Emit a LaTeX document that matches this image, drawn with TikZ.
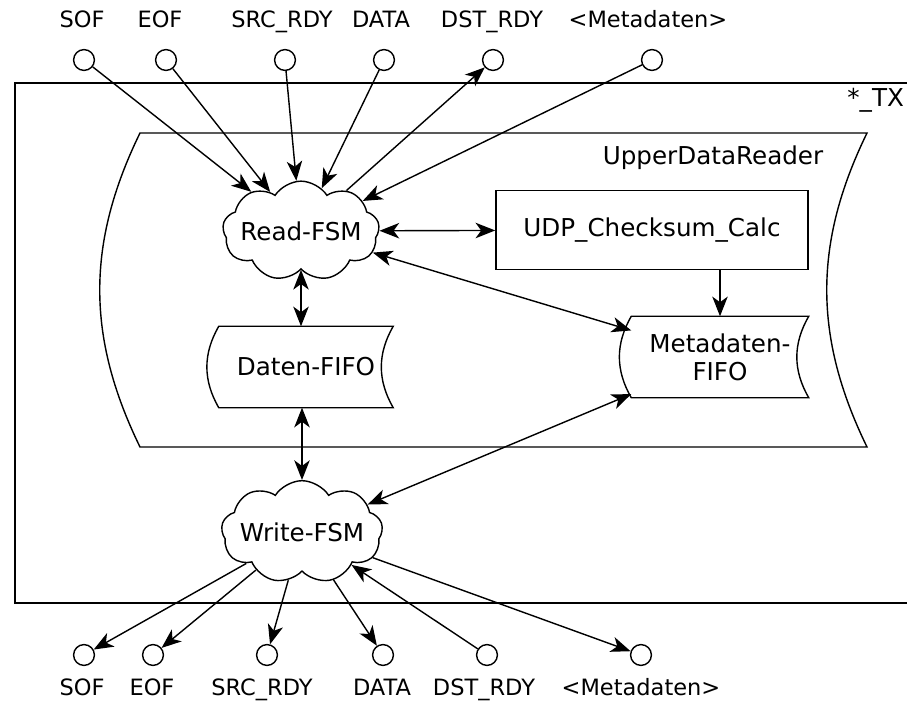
\documentclass[tikz,border=0pt]{standalone}
\usepackage{fontspec}
\setmainfont{DejaVu Sans}
\usetikzlibrary{shapes.symbols,arrows.meta}

\begin{document}
\begin{tikzpicture}[x=0.025cm,y=-0.025cm,line width=1pt,
    font=\fontsize{17.5}{20}\selectfont]
  \tikzstyle{port}=[circle,draw,minimum size=0.52cm,inner sep=0pt]
  \tikzstyle{portname}=[font=\fontsize{16}{19}\selectfont,
    text height=12pt,text depth=4pt,inner sep=0pt]
  \tikzstyle{fsm}=[cloud,draw,cloud puffs=9,cloud puff arc=115,
    aspect=2,inner xsep=-5pt,inner ysep=-4pt]
  \tikzstyle{fifo}=[minimum height=2cm,inner sep=0pt,align=center]
  \tikzstyle{box}=[draw,minimum width=7.8cm,minimum height=1.975cm]
  \tikzstyle{sig}=[-{Stealth[length=14pt,width=11pt,inset=4pt]}]
  \tikzstyle{both}=[{Stealth[length=14pt,width=11pt,inset=4pt]}-{Stealth[length=14pt,width=11pt,inset=4pt]}]
  \useasboundingbox (0,0) rectangle (907,708);

  % TX block and UpperDataReader
  \draw (915,83) -- (15,83) -- (15,603) -- (915,603);
  \node[anchor=east,inner sep=1pt](tx) at (906,100){*\_TX};
  \draw (140,133) -- (867,133) to[bend right=26] (867,447)
    -- (140,447) to[bend left=26] cycle;
  \node(reader) at (713,158){UpperDataReader};

  % inner blocks
  \node[fsm](read) at (301,231){Read-FSM};
  \node[fsm](write) at (302,532){Write-FSM};
  \node[box](udp) at (652,230){UDP\_Checksum\_Calc};
  \node[fifo,minimum width=4.325cm](dfifo) at (306,367){Daten-FIFO};
  \node[fifo,minimum width=4.4cm](mfifo) at (720,357){Metadaten-\\FIFO};
  \draw (dfifo.north west) to[bend right=30] (dfifo.south west)
    -- (dfifo.south east) to[bend left=30] (dfifo.north east) -- cycle;
  \draw (mfifo.north west) to[bend right=30] (mfifo.south west)
    -- (mfifo.south east) to[bend left=30] (mfifo.north east) -- cycle;

  % input ports
  \node[port](isof) at (84,60){};
  \node[port](ieof) at (166,60){};
  \node[port](isrc) at (285,60){};
  \node[port](idata) at (384,60){};
  \node[port](idst) at (493,60){};
  \node[port](imeta) at (652,60){};
  \node[portname](lisof) at (82,22){SOF};
  \node[portname](lieof) at (160,22){EOF};
  \node[portname](lisrc) at (282,22){SRC\_RDY};
  \node[portname](lidata) at (381,22){DATA};
  \node[portname](lidst) at (492,22){DST\_RDY};
  \node[portname](limeta) at (648,22){<Metadaten>};

  % output ports
  \node[port](osof) at (84,655){};
  \node[port](oeof) at (153,655){};
  \node[port](osrc) at (267,655){};
  \node[port](odata) at (383,655){};
  \node[port](odst) at (487,655){};
  \node[port](ometa) at (641,655){};
  \node[portname](losof) at (82,690){SOF};
  \node[portname](loeof) at (152,690){EOF};
  \node[portname](losrc) at (262,690){SRC\_RDY};
  \node[portname](lodata) at (382,690){DATA};
  \node[portname](lodst) at (484,690){DST\_RDY};
  \node[portname](lometa) at (641,690){<Metadaten>};

  % signals into the reader
  \path[draw,sig] (isof) -- (read);
  \path[draw,sig] (ieof) -- (read);
  \path[draw,sig] (isrc) -- (read);
  \path[draw,sig] (idata) -- (read);
  \path[draw,sig] (read) -- (idst);
  \path[draw,sig] (imeta) -- (read);

  % internal paths
  \path[draw,both] (read) -- (udp);
  \path[draw,both] (read) -- (mfifo);
  \path[draw,both] (read.south) -- (read.south |- dfifo.north);
  \path[draw,sig] (mfifo.north |- udp.south) -- (mfifo.north);
  \path[draw,both] (write.north |- dfifo.south) -- (write);
  \path[draw,both] (mfifo) -- (write);

  % signals out of the writer
  \path[draw,sig] (write) -- (osof);
  \path[draw,sig] (write) -- (oeof);
  \path[draw,sig] (write) -- (osrc);
  \path[draw,sig] (write) -- (odata);
  \path[draw,sig] (odst) -- (write);
  \path[draw,sig] (write) -- (ometa);
\end{tikzpicture}
\end{document}
